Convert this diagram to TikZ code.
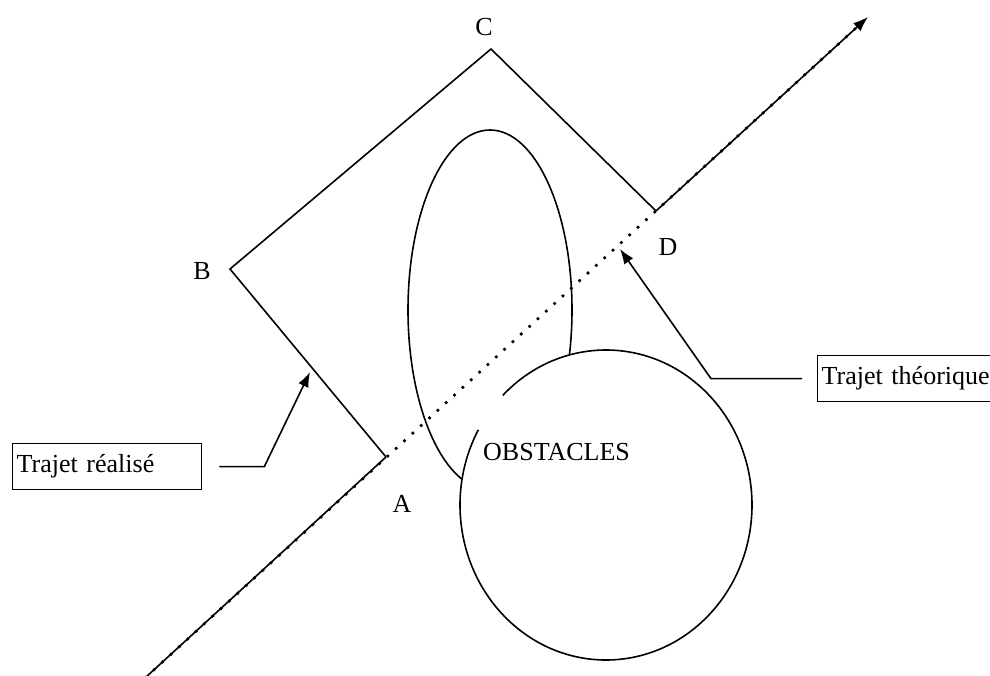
\documentclass[tikz,border=0pt]{standalone}
\usepackage{fontspec}
\setmainfont{Liberation Serif}
\usetikzlibrary{arrows.meta}
\tikzset{>={Latex[length=15pt,width=11pt]}}
\tikzset{
  trajet/.style={line width=1.6pt, line join=miter},
  theo/.style={line width=2.6pt, dash pattern=on 2.6pt off 8.7pt},
  legende/.style={draw, line width=1.3pt, anchor=north west, minimum height=46pt,
    text width=181pt, inner xsep=4pt, align=left},
}

\begin{document}
\begin{tikzpicture}[x=1pt,y=-1pt,font=\fontsize{26}{30}\selectfont]
    \clip (0,0) rectangle (990,675);
    % corners of the path
    \coordinate (A) at (386,457);
    \coordinate (B) at (230,269);
    \coordinate (C) at (491,49);
    \coordinate (D) at (656,211);
    \coordinate (deb) at (145,678);
    \coordinate (fin) at (868,17);

    % obstacles
    \draw[trajet] (490,310) ellipse [x radius=82, y radius=180];
    \fill[white] (606,505) ellipse [x radius=146, y radius=155];
    \draw[trajet] (606,505) ++(-135:146 and 155)
        arc [start angle=-135, end angle=209, x radius=146, y radius=155];

    \draw[theo] (deb) -- (fin);
    \draw[trajet] (deb) -- (A);
    \draw[trajet, ->] (D) -- (fin);
    \draw[trajet] (A) -- (B) -- (C) -- (D);

    \node (lA) at (402,504) {A};
    \node (lB) at (202,271) {B};
    \node (lC) at (484,27) {C};
    \node (lD) at (668,247) {D};
    \node (obs) [anchor=base west, inner sep=0pt] at (483,460) {OBSTACLES};

    \node[legende] (real) at (12,443) {Trajet réalisé};
    \node[legende] (theor) at (817,355) {Trajet théorique};

    \coordinate (pAB) at (310,372);
    \coordinate (pAD) at (620,249);
    \draw[trajet, ->] ([xshift=17pt]real.east) -- ++(45,0) -- (pAB);
    \draw[trajet, ->] ([xshift=-15pt]theor.west) -- ++(-91,0) -- (pAD);
\end{tikzpicture}
\end{document}
